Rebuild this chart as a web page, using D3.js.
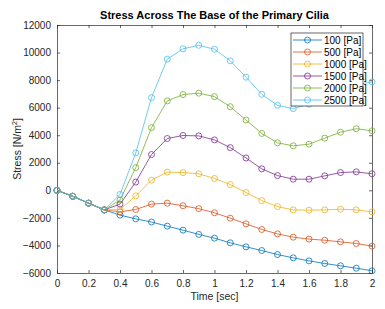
<!DOCTYPE html>
<html>
<head>
<meta charset="utf-8">
<script src="https://cdn.jsdelivr.net/npm/d3@7"></script>
<style>
    body { margin: 0; background: #fff; }
    svg { font-family: "Liberation Sans", Arial, sans-serif; }
    .tick text { fill: #262626; font-size: 10px; }
</style>
</head>
<body>
<div id="chart"></div>
<script>
// DATA
const time = [0, 0.1, 0.2, 0.3, 0.4, 0.5, 0.6, 0.7, 0.8, 0.9, 1.0, 1.1, 1.2, 1.3, 1.4, 1.5, 1.6, 1.7, 1.8, 1.9, 2.0];
const seriesNames = ["100 [Pa]", "500 [Pa]", "1000 [Pa]", "1500 [Pa]", "2000 [Pa]", "2500 [Pa]"];
const s100 = [0, -430, -930, -1420, -1800, -2070, -2300, -2600, -2890, -3200, -3470, -3810, -4100, -4370, -4660, -4900, -5120, -5310, -5480, -5650, -5840];
const s500 = [0, -430, -930, -1420, -1560, -1390, -1000, -930, -1120, -1330, -1630, -2020, -2430, -2840, -3160, -3400, -3540, -3620, -3740, -3860, -4050];
const s1000 = [0, -430, -930, -1420, -1400, -400, 740, 1320, 1290, 1200, 860, 420, -160, -740, -1180, -1420, -1440, -1420, -1370, -1420, -1560];
const s1500 = [0, -430, -930, -1420, -1000, 600, 2600, 3760, 3980, 3950, 3660, 3100, 2350, 1560, 1070, 810, 810, 1050, 1290, 1340, 1200];
const s2000 = [0, -430, -930, -1420, -700, 1650, 4550, 6490, 6950, 7050, 6800, 6070, 5100, 4130, 3450, 3230, 3350, 3790, 4220, 4470, 4320];
const s2500 = [0, -430, -930, -1420, -300, 2720, 6730, 9520, 10270, 10530, 10240, 9400, 8210, 6970, 6170, 5930, 6250, 6750, 7250, 7650, 7870];
const xTicks = [0, 0.2, 0.4, 0.6, 0.8, 1, 1.2, 1.4, 1.6, 1.8, 2];
const yTicks = [-6000, -4000, -2000, 0, 2000, 4000, 6000, 8000, 10000, 12000];

const colors = ["#0072BD", "#D95319", "#EDB120", "#7E2F8E", "#77AC30", "#4DBEEE"];
const allSeries = [s100, s500, s1000, s1500, s2000, s2500];

// CHART SETUP
const width = 385, height = 309;
const margin = {top: 25, right: 13, bottom: 36, left: 57};
const axisColor = "#262626";

const svg = d3.select("#chart").append("svg")
    .attr("width", width)
    .attr("height", height);

const xScale = d3.scaleLinear().domain([0, 2]).range([margin.left, width - margin.right]);
const yScale = d3.scaleLinear().domain([-6000, 12000]).range([height - margin.bottom, margin.top]);

// axes (MATLAB style box, ticks pointing in)
const tick = 3;
svg.append("g")
    .attr("transform", `translate(0, ${yScale(-6000)})`)
    .call(d3.axisBottom(xScale).tickValues(xTicks).tickFormat(d3.format("")).tickSizeInner(-tick).tickSizeOuter(0).tickPadding(7));
svg.append("g")
    .attr("transform", `translate(0, ${yScale(12000)})`)
    .call(d3.axisTop(xScale).tickValues(xTicks).tickFormat("").tickSizeInner(-tick).tickSizeOuter(0));
svg.append("g")
    .attr("transform", `translate(${xScale(0)}, 0)`)
    .call(d3.axisLeft(yScale).tickValues(yTicks).tickFormat(d3.format("")).tickSizeInner(-tick).tickSizeOuter(0).tickPadding(6));
svg.append("g")
    .attr("transform", `translate(${xScale(2)}, 0)`)
    .call(d3.axisRight(yScale).tickValues(yTicks).tickFormat("").tickSizeInner(-tick).tickSizeOuter(0));

svg.selectAll(".domain, .tick line")
    .attr("stroke", axisColor)
    .attr("stroke-width", 0.7);

// lines + markers
const line = d3.line()
    .x((d, i) => xScale(time[i]))
    .y(d => yScale(d));

const seriesG = svg.append("g");
allSeries.forEach((s, k) => {
    const g = seriesG.append("g");
    g.append("path")
        .attr("d", line(s))
        .attr("fill", "none")
        .attr("stroke", colors[k])
        .attr("stroke-width", 0.8);
    g.selectAll("circle")
        .data(s)
        .join("circle")
        .attr("cx", (d, i) => xScale(time[i]))
        .attr("cy", d => yScale(d))
        .attr("r", 3)
        .attr("fill", "none")
        .attr("stroke", colors[k])
        .attr("stroke-width", 0.8);
});

// title and labels
svg.append("text")
    .attr("x", (xScale(0) + xScale(2)) / 2)
    .attr("y", 19)
    .attr("text-anchor", "middle")
    .attr("font-size", 11)
    .attr("font-weight", "bold")
    .attr("fill", "#000")
    .text("Stress Across The Base of the Primary Cilia");

svg.append("text")
    .attr("x", (xScale(0) + xScale(2)) / 2)
    .attr("y", 300)
    .attr("text-anchor", "middle")
    .attr("font-size", 10.5)
    .attr("fill", axisColor)
    .text("Time [sec]");

const yLab = svg.append("text")
    .attr("transform", `translate(21, ${(yScale(-6000) + yScale(12000)) / 2}) rotate(-90)`)
    .attr("text-anchor", "middle")
    .attr("font-size", 10.5)
    .attr("fill", axisColor);
yLab.append("tspan").text("Stress [N/m");
yLab.append("tspan").attr("font-size", 7).attr("dy", -4).text("2");
yLab.append("tspan").attr("dy", 4).text("]");

// legend
const legend = svg.append("g").attr("transform", "translate(291, 33)");
legend.append("rect")
    .attr("width", 72)
    .attr("height", 73)
    .attr("fill", "#fff")
    .attr("stroke", axisColor)
    .attr("stroke-width", 0.7);
seriesNames.forEach((name, k) => {
    const yy = 7 + k * 12;
    legend.append("line")
        .attr("x1", 2).attr("x2", 31)
        .attr("y1", yy).attr("y2", yy)
        .attr("stroke", colors[k])
        .attr("stroke-width", 0.8);
    legend.append("circle")
        .attr("cx", 16.5).attr("cy", yy).attr("r", 3)
        .attr("fill", "none")
        .attr("stroke", colors[k])
        .attr("stroke-width", 0.8);
    legend.append("text")
        .attr("x", 33)
        .attr("y", yy + 3.5)
        .attr("font-size", 10)
        .attr("fill", "#000")
        .text(name);
});
</script>
</body>
</html>
